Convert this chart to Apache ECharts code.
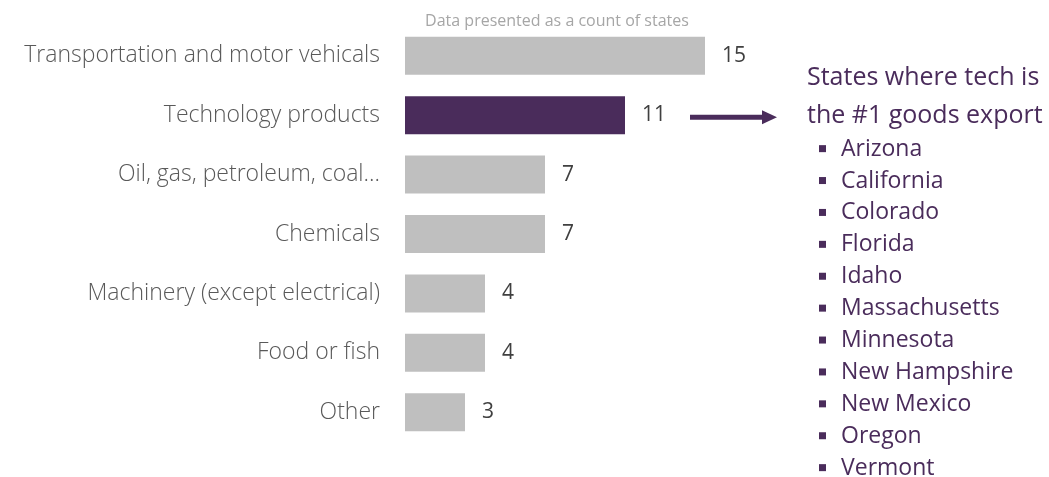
<!DOCTYPE html>
<html>
<head>
<meta charset="utf-8">
<script src="https://cdn.jsdelivr.net/npm/echarts@6/dist/echarts.min.js"></script>
<style>
  html, body { margin: 0; padding: 0; background: #ffffff; }
  #chart { width: 1049px; height: 477px; }
</style>
</head>
<body>
<div id="chart"></div>
<script>
// Top goods export category, counted by state
const categories = [
  'Transportation and motor vehicals',
  'Technology products',
  'Oil, gas, petroleum, coal…',
  'Chemicals',
  'Machinery (except electrical)',
  'Food or fish',
  'Other'
];
const stateCounts = [15, 11, 7, 7, 4, 4, 3];
const highlightCategory = 'Technology products';

// States where technology is the #1 goods export
const techStates = [
  'Arizona', 'California', 'Colorado', 'Florida', 'Idaho', 'Massachusetts',
  'Minnesota', 'New Hampshire', 'New Mexico', 'Oregon', 'Vermont'
];
const noteTitle = ['States where tech is', 'the #1 goods export'];
const subtitle = 'Data presented as a count of states';

const PURPLE = '#4a2c5b';
const GRAY = '#bfbfbf';
const FONT = '"Open Sans"';

const chart = echarts.init(document.getElementById('chart'), null, { renderer: 'canvas' });

const grid = { left: 405, top: 26, width: 300, height: 416 };

chart.setOption({
  animation: false,
  backgroundColor: '#ffffff',
  title: {
    text: subtitle,
    left: 552, top: 8, textAlign: 'center',
    textStyle: { fontFamily: FONT, fontWeight: 'normal', fontSize: 16, color: '#a6a6a6' }
  },
  grid: grid,
  xAxis: {
    type: 'value', min: 0, max: 15,
    show: false
  },
  yAxis: {
    type: 'category',
    inverse: true,
    data: categories,
    axisLine: { show: false },
    axisTick: { show: false },
    axisLabel: {
      margin: 25,
      fontFamily: FONT, fontWeight: 300, fontSize: 23, color: '#595959'
    }
  },
  series: [{
    type: 'bar',
    data: stateCounts.map((v, i) => ({
      value: v,
      itemStyle: { color: categories[i] === highlightCategory ? PURPLE : GRAY }
    })),
    barCategoryGap: '36%',
    label: {
      show: true, position: 'right', distance: 17,
      fontFamily: FONT, fontSize: 21, color: '#404040'
    }
  }]
});

// Arrow and state list, placed relative to the highlighted bar
function drawNote() {
  const idx = categories.indexOf(highlightCategory);
  const p = chart.convertToPixel({ gridIndex: 0 }, [stateCounts[idx], idx]);
  const y = p[1] + 2;
  const x0 = p[0] + 65, x1 = p[0] + 152;
  const elements = [
    { type: 'line', shape: { x1: x0, y1: y, x2: x1 - 12, y2: y },
      style: { stroke: PURPLE, lineWidth: 5 } },
    { type: 'polygon', shape: { points: [[x1 - 15, y - 7], [x1, y], [x1 - 15, y + 7]] },
      style: { fill: PURPLE } }
  ];
  const tx = x1 + 30;
  noteTitle.forEach((t, i) => {
    elements.push({ type: 'text', x: tx, y: y - 39 + i * 38,
      style: { text: t, fill: PURPLE, font: '25px ' + FONT, textVerticalAlign: 'middle' } });
  });
  techStates.forEach((s, i) => {
    const sy = y + 32 + i * 31.9;
    elements.push({ type: 'rect', shape: { x: tx + 12, y: sy - 4, width: 7, height: 7 },
      style: { fill: PURPLE } });
    elements.push({ type: 'text', x: tx + 34, y: sy,
      style: { text: s, fill: PURPLE, font: '23px ' + FONT, textVerticalAlign: 'middle' } });
  });
  chart.setOption({ graphic: { elements: elements } });
}
drawNote();
</script>
</body>
</html>
